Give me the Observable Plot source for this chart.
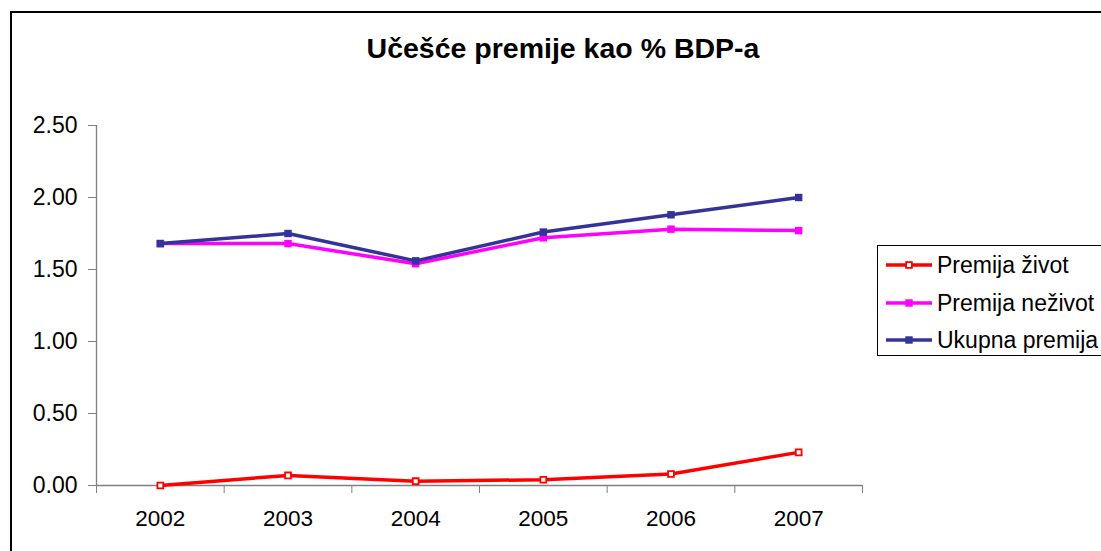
<!DOCTYPE html>
<html><head><meta charset="utf-8">
<script src="https://cdn.jsdelivr.net/npm/d3@7"></script>
<script src="https://cdn.jsdelivr.net/npm/@observablehq/plot@0.6"></script>
<style>
html,body{margin:0;padding:0;background:#fff;overflow:hidden}
#wrap{position:relative;width:1101px;height:551px;overflow:hidden;font-family:"Liberation Sans",Arial,sans-serif;background:#fff}
#frame{position:absolute;left:10px;top:11px;width:1200px;height:700px;border:2px solid #000;box-sizing:border-box}
#chart{position:absolute;left:0;top:0}
#overlay{position:absolute;left:0;top:0}
</style></head>
<body>
<div id="wrap"><div id="frame"></div><div id="chart"></div><svg id="overlay" width="1101" height="551"></svg></div>
<script>
const title = "Učešće premije kao % BDP-a";
const years = [2002, 2003, 2004, 2005, 2006, 2007];
const seriesNames = ["Premija život", "Premija neživot", "Ukupna premija"];
const zivot = [0.00, 0.07, 0.03, 0.04, 0.08, 0.23];
const nezivot = [1.68, 1.68, 1.54, 1.72, 1.78, 1.77];
const ukupno = [1.68, 1.75, 1.56, 1.76, 1.88, 2.00];
const yTicks = [0, 0.5, 1, 1.5, 2, 2.5];
const colors = ["#FF0000", "#FF00FF", "#333399"];

const seriesValues = [zivot, nezivot, ukupno];
const rowsBy = seriesValues.map((vals, si) => years.map((yr, i) => ({year: yr, value: vals[i], series: seriesNames[si]})));
const boundaries = years.map(y => y - 0.5).concat([years[years.length - 1] + 0.5]);

const marks = [
  Plot.ruleX([boundaries[0]], {stroke: "#808080", strokeWidth: 1.3}),
  Plot.ruleY([0], {stroke: "#808080", strokeWidth: 1.3}),
  Plot.axisY({ticks: yTicks, tickFormat: d3.format(".2f"), tickSize: 8, tickPadding: 11, stroke: "#808080", fill: "#000", fontSize: 23, label: null}),
  Plot.axisX({ticks: boundaries, tickSize: 8, tickFormat: () => "", stroke: "#808080", label: null}),
  Plot.axisX({ticks: years, tickSize: 0, tickPadding: 25, tickFormat: d => String(d), fill: "#000", fontSize: 22.5, label: null})
];
rowsBy.forEach((rows, si) => {
  marks.push(Plot.line(rows, {x: "year", y: "value", stroke: colors[si], strokeWidth: 3.5}));
  if (si === 0) {
    marks.push(Plot.dot(rows, {x: "year", y: "value", symbol: "square", r: 3.3, fill: "#fff", stroke: colors[si], strokeWidth: 1.8}));
  } else {
    marks.push(Plot.dot(rows, {x: "year", y: "value", symbol: "square", r: 4.2, fill: colors[si], stroke: "none"}));
  }
});

const chart = Plot.plot({
  width: 1101, height: 551,
  marginLeft: 96, marginRight: 239, marginTop: 125, marginBottom: 66,
  x: {type: "linear", domain: [boundaries[0], boundaries[boundaries.length - 1]]},
  y: {domain: [0, 2.5]},
  style: {fontFamily: '"Liberation Sans", Arial, sans-serif', fontSize: "22px", background: "transparent", color: "#000"},
  marks
});
document.getElementById("chart").appendChild(chart);

// Title and legend (decoration)
const ov = d3.select("#overlay");
ov.append("text").attr("x", 563).attr("y", 58).attr("text-anchor", "middle")
  .style("font-family", '"Liberation Sans", Arial, sans-serif').style("font-weight", "bold").style("font-size", "28.5px")
  .text(title);
ov.append("rect").attr("x", 877.5).attr("y", 245.5).attr("width", 300).attr("height", 110)
  .attr("fill", "#fff").attr("stroke", "#000").attr("stroke-width", 1);
const legY = [265, 303, 340];
seriesNames.forEach((name, i) => {
  const g = ov.append("g");
  g.append("line").attr("x1", 886).attr("x2", 932).attr("y1", legY[i]).attr("y2", legY[i])
    .attr("stroke", colors[i]).attr("stroke-width", 3.5);
  if (i === 0) {
    g.append("rect").attr("x", 906.1).attr("y", legY[i] - 2.9).attr("width", 5.8).attr("height", 5.8)
      .attr("fill", "#fff").attr("stroke", colors[i]).attr("stroke-width", 1.8);
  } else {
    g.append("rect").attr("x", 905.3).attr("y", legY[i] - 3.7).attr("width", 7.4).attr("height", 7.4).attr("fill", colors[i]);
  }
  g.append("text").attr("x", 937).attr("y", legY[i] + 8)
    .style("font-family", '"Liberation Sans", Arial, sans-serif').style("font-size", "23px").text(name);
});
</script>
</body></html>
